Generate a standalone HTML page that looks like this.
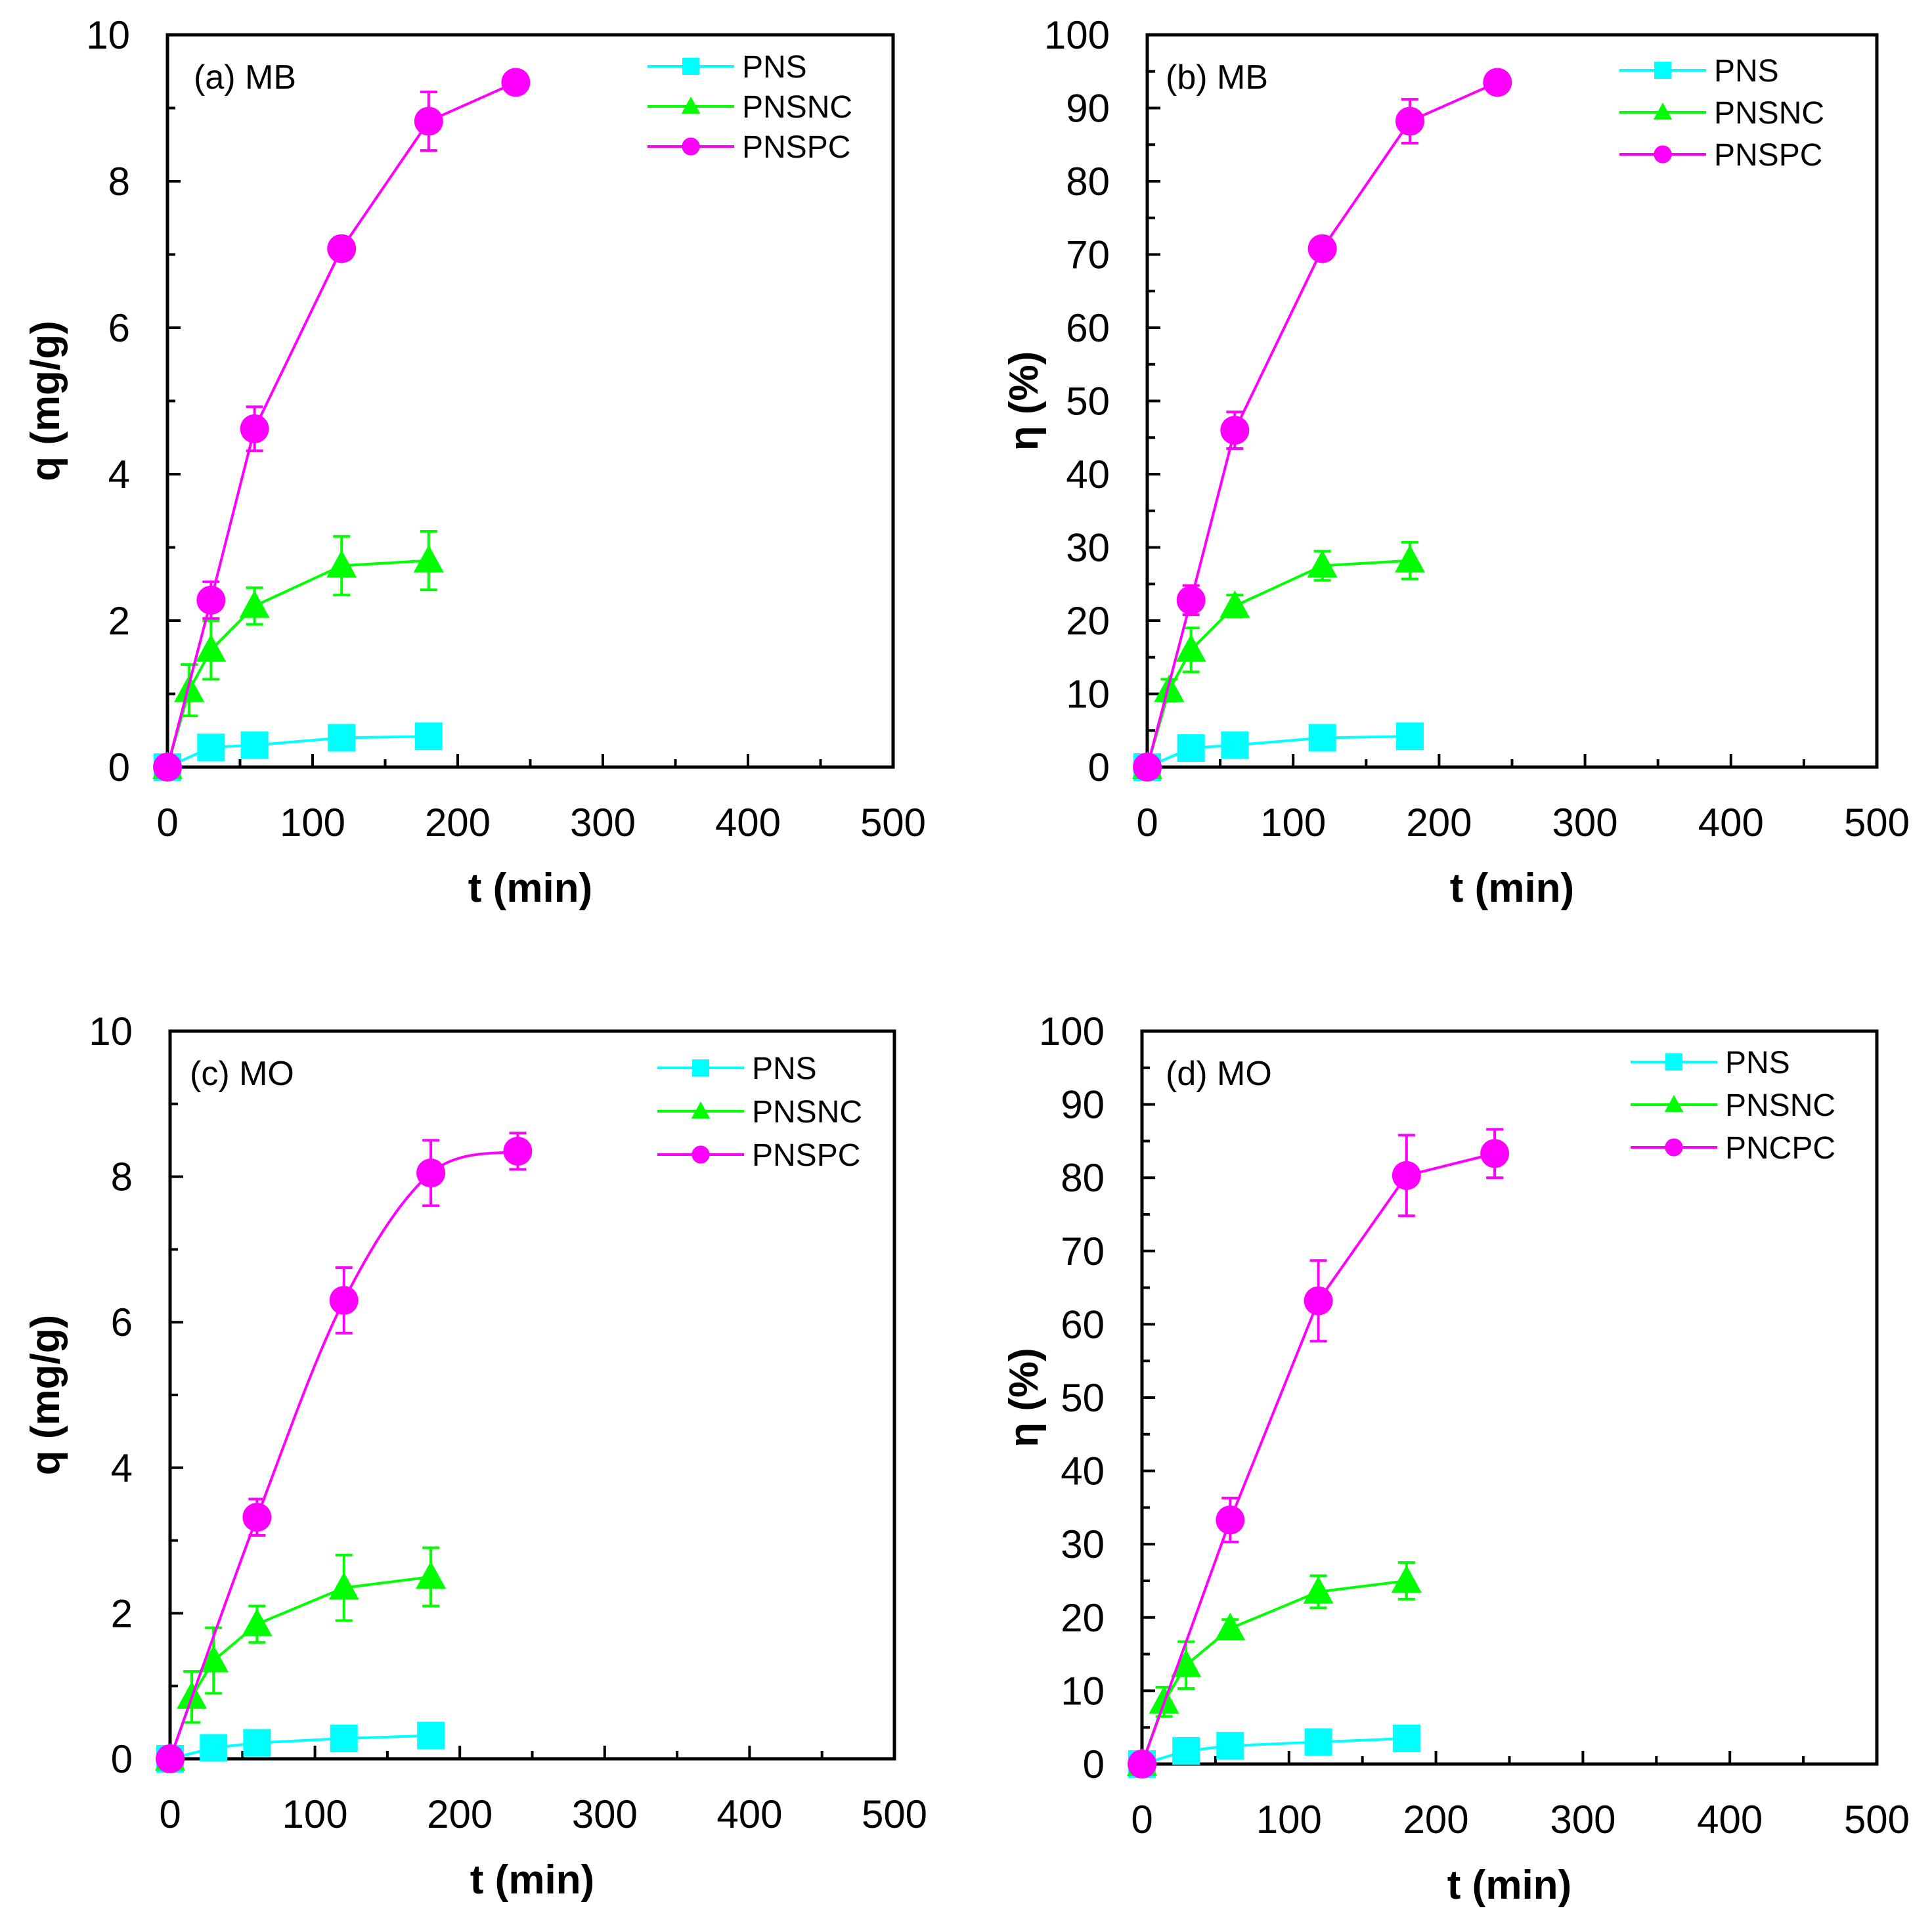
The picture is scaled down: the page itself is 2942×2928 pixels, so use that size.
<!DOCTYPE html>
<html><head><meta charset="utf-8"><style>
html,body{margin:0;padding:0;background:#fff;}
svg{display:block;font-family:"Liberation Sans",Arial,sans-serif;}
</style></head><body>
<svg id="fig" width="2942" height="2928" viewBox="0 0 2942 2928" xmlns="http://www.w3.org/2000/svg"></svg>
<script>
// ---- data ----
const tPNS = [0,30,60,120,180];
const tNC = [0,15,30,60,120,180];
const tPCab = [0,30,60,120,180,240];
const tPCcd = [0,60,120,180,240];

const aPNS = [0,0.27,0.3,0.4,0.42];
const aNC = [0,1.05,1.6,2.2,2.75,2.82];
const aNCerr = [0,0.35,0.4,0.25,0.4,0.4];
const aPC = [0,2.28,4.62,7.08,8.82,9.35];
const aPCerr = [0,0.25,0.3,0.15,0.4,0];

const bPNS = [0,2.6,3,4,4.2];
const bNC = [0,10.5,16,22,27.5,28.2];
const bNCerr = [0,1.5,3,1.5,2,2.5];
const bPC = [0,22.8,46,70.8,88.2,93.5];
const bPCerr = [0,2,2.5,1,3,0];

const cPNS = [0,0.15,0.22,0.28,0.32];
const cNC = [0,0.85,1.35,1.85,2.35,2.5];
const cNCerr = [0,0.35,0.45,0.25,0.45,0.4];
const cPC = [0,3.32,6.3,8.05,8.35];
const cPCerr = [0,0.25,0.45,0.45,0.25];

const dPNS = [0,1.8,2.5,3,3.5];
const dNC = [0,8.5,13.5,18.5,23.5,25];
const dNCerr = [0,2,3.2,1.2,2.2,2.5];
const dPC = [0,33.3,63.2,80.3,83.3];
const dPCerr = [0,3,5.5,5.5,3.3];

const xTicks = [0,100,200,300,400,500];
const qTicks = [0,2,4,6,8,10];
const eTicks = [0,10,20,30,40,50,60,70,80,90,100];

const NS='http://www.w3.org/2000/svg';
const svg=document.getElementById('fig');
function mk(tag,attrs,parent){const e=document.createElementNS(NS,tag);for(const k in attrs)e.setAttribute(k,attrs[k]);(parent||svg).appendChild(e);return e;}
const CY='#00ffff',GR='#00ff00',MG='#ff00ff';

function panel(cfg){
  const g=mk('g',{});
  
  
  const L=cfg.L,R=cfg.R,T=cfg.T,B=cfg.B;
  const xs=v=>L+(v-0)/500*(R-L);
  const ys=v=>B-(v-0)/cfg.ymax*(B-T);
  xTicks.forEach((v,i)=>{
    mk('line',{x1:xs(v),x2:xs(v),y1:B,y2:B-20,stroke:'#000','stroke-width':4},g);
    if(i<xTicks.length-1) mk('line',{x1:xs(v+50),x2:xs(v+50),y1:B,y2:B-12,stroke:'#000','stroke-width':4},g);
    const t=mk('text',{x:xs(v),y:B+105,'font-size':60,'text-anchor':'middle'},g);
    
    
    t.textContent=v;
  });
  const yt=cfg.yticks, step=yt[1]-yt[0];
  yt.forEach((v,i)=>{
    mk('line',{x1:L,x2:L+20,y1:ys(v),y2:ys(v),stroke:'#000','stroke-width':4},g);
    if(i<yt.length-1) mk('line',{x1:L,x2:L+12,y1:ys(v+step/2),y2:ys(v+step/2),stroke:'#000','stroke-width':4},g);
    const t=mk('text',{x:L-57,y:ys(v)+21,'font-size':60,'text-anchor':'end'},g);
    
    
    t.textContent=v;
  });
  const fr=mk('rect',{x:L,y:T,width:R-L,height:B-T,fill:'none',stroke:'#000','stroke-width':5},g);
  
  
  const xt=mk('text',{x:(L+R)/2,y:B+205,'font-size':62,'font-weight':'bold','text-anchor':'middle'},g);
  
  
  xt.textContent='t (min)';
  const yy=(T+B)/2;
  const ytl=mk('text',{x:0,y:0,'font-size':62,'font-weight':'bold','text-anchor':'middle',transform:`translate(${cfg.ytx},${yy}) rotate(-90)`},g);
  
  
  ytl.textContent=cfg.ytitle;
  const pl=mk('text',{x:cfg.lblx,y:T+82,'font-size':52},g);
  
  
  pl.textContent=cfg.label;
  function series(xsArr,ysArr,err,color,shape,name,smooth){
    const sg=mk('g',{},g);
    
    
    const P=xsArr.map((x,i)=>[xs(x),ys(ysArr[i])]);
    let d;
    if(smooth){
      d='M'+P[0][0]+','+P[0][1];
      for(let i=0;i<P.length-1;i++){
        const p0=P[Math.max(0,i-1)],p1=P[i],p2=P[i+1],p3=P[Math.min(P.length-1,i+2)];
        const c1=[p1[0]+(p2[0]-p0[0])/6,p1[1]+(p2[1]-p0[1])/6];
        const c2=[p2[0]-(p3[0]-p1[0])/6,p2[1]-(p3[1]-p1[1])/6];
        d+=` C${c1[0]},${c1[1]} ${c2[0]},${c2[1]} ${p2[0]},${p2[1]}`;
      }
    } else d='M'+P.map(p=>p.join(',')).join(' L');
    mk('path',{d:d,fill:'none',stroke:color,'stroke-width':4},sg);
    if(err) err.forEach((e,i)=>{
      if(!e) return;
      const x=P[i][0],y1=ys(ysArr[i]+e),y2=ys(ysArr[i]-e);
      mk('line',{x1:x,x2:x,y1:y1,y2:y2,stroke:color,'stroke-width':4},sg);
      mk('line',{x1:x-13,x2:x+13,y1:y1,y2:y1,stroke:color,'stroke-width':4},sg);
      mk('line',{x1:x-13,x2:x+13,y1:y2,y2:y2,stroke:color,'stroke-width':4},sg);
    });
    P.forEach(p=>{ const m=marker(p[0],p[1],shape,color,sg,1);   });
  }
  function marker(x,y,shape,color,par,s){
    if(shape==='sq') return mk('rect',{x:x-21*s,y:y-21*s,width:42*s,height:42*s,fill:color},par);
    if(shape==='tri') return mk('polygon',{points:`${x},${y-24*s} ${x+23*s},${y+18*s} ${x-23*s},${y+18*s}`,fill:color},par);
    return mk('circle',{cx:x,cy:y,r:22*s,fill:color},par);
  }
  series(tPNS,cfg.pns,null,CY,'sq','series-pns');
  series(tNC,cfg.nc,cfg.ncErr,GR,'tri','series-pnsnc');
  series(cfg.tpc,cfg.pc,cfg.pcErr,MG,'circ','series-pnspc',cfg.smooth);
  const lg=mk('g',{},g);
  
  
  const names=['PNS','PNSNC',cfg.pcName],cols=[CY,GR,MG],shp=['sq','tri','circ'];
  names.forEach((n,i)=>{
    const y=cfg.legY+i*cfg.legDy;
    const e=mk('g',{},lg);
    
    
    mk('line',{x1:cfg.legX,x2:cfg.legX+132,y1:y,y2:y,stroke:cols[i],'stroke-width':4},e);
    marker(cfg.legX+66,y,shp[i],cols[i],e,0.62);
    const t=mk('text',{x:cfg.legX+144,y:y+17,'font-size':48},e);
    t.textContent=n;
  });
}

panel({name:'panel-a',L:255,R:1360,T:53,B:1168,ymax:10,yticks:qTicks,ytx:90,ytitle:'q (mg/g)',label:'(a) MB',lblx:295,
  pns:aPNS,nc:aNC,ncErr:aNCerr,pc:aPC,pcErr:aPCerr,tpc:tPCab,pcName:'PNSPC',legX:986,legY:101,legDy:61});
panel({name:'panel-b',L:1747,R:2858,T:53,B:1168,ymax:100,yticks:eTicks,ytx:1580,ytitle:'η (%)',label:'(b) MB',lblx:1775,
  pns:bPNS,nc:bNC,ncErr:bNCerr,pc:bPC,pcErr:bPCerr,tpc:tPCab,pcName:'PNSPC',legX:2466,legY:107,legDy:64});
panel({name:'panel-c',L:259,R:1362,T:1570,B:2678,ymax:10,yticks:qTicks,ytx:90,ytitle:'q (mg/g)',label:'(c) MO',lblx:289,
  pns:cPNS,nc:cNC,ncErr:cNCerr,pc:cPC,pcErr:cPCerr,tpc:tPCcd,pcName:'PNSPC',smooth:true,legX:1001,legY:1626,legDy:66});
panel({name:'panel-d',L:1739,R:2858,T:1570,B:2686,ymax:100,yticks:eTicks,ytx:1580,ytitle:'η (%)',label:'(d) MO',lblx:1775,
  pns:dPNS,nc:dNC,ncErr:dNCerr,pc:dPC,pcErr:dPCerr,tpc:tPCcd,pcName:'PNCPC',legX:2483,legY:1617,legDy:65});
</script>
</body></html>
